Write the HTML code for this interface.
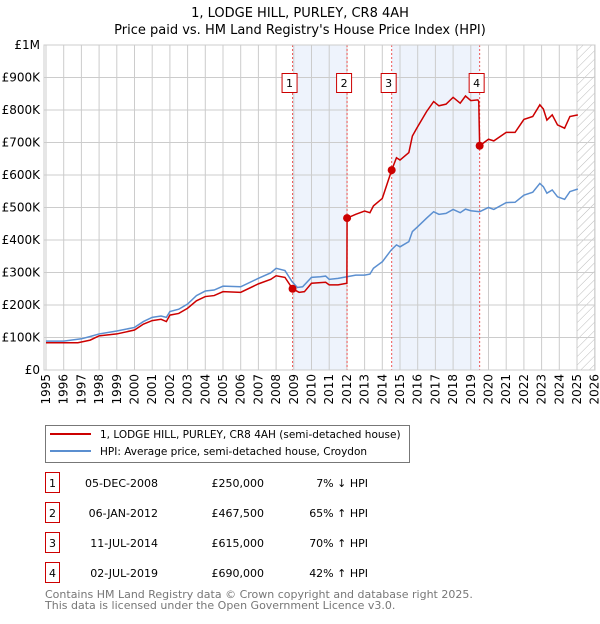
<!DOCTYPE html>
<html><head><meta charset="utf-8"><style>
body{margin:0;background:#fff;font-family:"DejaVu Sans","Liberation Sans",sans-serif;}
svg text{font-family:"DejaVu Sans","Liberation Sans",sans-serif;}
</style></head><body>
<svg id="c" width="600" height="620" xmlns="http://www.w3.org/2000/svg">
<defs><pattern id="hatch" width="6" height="6" patternUnits="userSpaceOnUse" patternTransform="rotate(45)"><line x1="0" y1="0" x2="0" y2="6" stroke="#bbb" stroke-width="1"/></pattern></defs>
<text x="300" y="17" text-anchor="middle" font-size="13">1, LODGE HILL, PURLEY, CR8 4AH</text>
<text x="300" y="34" text-anchor="middle" font-size="13">Price paid vs. HM Land Registry's House Price Index (HPI)</text>
<g id="plot"></g>
<g>
<rect x="45.5" y="425.5" width="364" height="37" fill="#fff" stroke="#777"/>
<line x1="50" y1="434" x2="91" y2="434" stroke="#cc0000" stroke-width="2"/>
<text x="100" y="438" font-size="10.5">1, LODGE HILL, PURLEY, CR8 4AH (semi-detached house)</text>
<line x1="50" y1="451" x2="91" y2="451" stroke="#5b8fd0" stroke-width="2"/>
<text x="100" y="455" font-size="10.5">HPI: Average price, semi-detached house, Croydon</text>
</g>
<g id="table" font-size="11"></g>
<text x="45" y="598" font-size="11" fill="#777">Contains HM Land Registry data © Crown copyright and database right 2025.</text>
<text x="45" y="609" font-size="11" fill="#777">This data is licensed under the Open Government Licence v3.0.</text>
</svg>
<script>
const hpiYears=[1995,1996,1997,1997.5,1998,1999,2000,2000.5,2001,2001.5,2001.8,2002,2002.5,2003,2003.5,2004,2004.5,2005,2006,2007,2007.7,2008,2008.5,2008.9,2009.2,2009.5,2010,2010.5,2010.8,2011,2011.5,2012,2012.5,2013,2013.3,2013.5,2014,2014.5,2014.8,2015,2015.5,2015.7,2016,2016.5,2016.9,2017.2,2017.6,2018,2018.4,2018.7,2019,2019.5,2020,2020.3,2021,2021.5,2022,2022.5,2022.9,2023.1,2023.3,2023.6,2023.9,2024.3,2024.6,2025.05];
const hpiValues=[89,89,96,103,111,120,131,149,162,166,162,180,187,203,229,243,246,258,256,282,299,313,306,272,254,256,285,287,289,279,282,287,292,292,295,313,333,369,385,379,395,426,441,467,487,479,482,494,484,495,490,487,500,494,515,516,538,547,574,564,544,554,533,525,549,557];
const priceYears=[1995,1996.8,1997.5,1998,1999,2000,2000.5,2001,2001.5,2001.8,2002,2002.5,2003,2003.5,2004,2004.5,2005,2006,2007,2007.7,2008,2008.5,2008.93,2009.3,2009.6,2010,2010.8,2011,2011.5,2012.0,2012.01,2012.5,2013,2013.3,2013.5,2014,2014.53,2014.8,2015,2015.5,2015.7,2016,2016.5,2016.9,2017.2,2017.6,2018,2018.4,2018.7,2019,2019.4,2019.45,2019.5,2020,2020.3,2021,2021.5,2022,2022.5,2022.9,2023.1,2023.3,2023.6,2023.9,2024.3,2024.6,2025.05];
const priceValues=[84,84,92,105,111,123,141,152,156,149,169,174,190,213,226,229,241,239,265,279,290,285,250,239,241,267,270,262,262,267,467.5,479,489,484,505,528,615,653,646,669,720,749,795,826,813,818,839,821,843,829,831,826,690,710,705,731,731,771,780,816,803,769,785,754,744,780,785];
const saleLabels=["1","2","3","4"];
const saleYears=[2008.93,2012.01,2014.53,2019.5];
const saleValues=[250,467.5,615,690];
const saleDates=["05-DEC-2008","06-JAN-2012","11-JUL-2014","02-JUL-2019"];
const salePrices=["£250,000","£467,500","£615,000","£690,000"];
const saleHpi=["7% ↓ HPI","65% ↑ HPI","70% ↑ HPI","42% ↑ HPI"];
const yTicks=[0,100,200,300,400,500,600,700,800,900,1000];
const yTickLabels=["£0","£100K","£200K","£300K","£400K","£500K","£600K","£700K","£800K","£900K","£1M"];
const xTicks=[1995,1996,1997,1998,1999,2000,2001,2002,2003,2004,2005,2006,2007,2008,2009,2010,2011,2012,2013,2014,2015,2016,2017,2018,2019,2020,2021,2022,2023,2024,2025,2026];

const X=y=>46+(y-1995)*17.7, Y=v=>370-v*0.325;
const L=44,R=595,T=45,B=370;
const NS="http://www.w3.org/2000/svg";
const plot=document.getElementById('plot');
function mk(tag,attrs,parent){const e=document.createElementNS(NS,tag);for(const k in attrs)e.setAttribute(k,attrs[k]);(parent||plot).appendChild(e);return e;}
let e;
e=mk('rect',{x:L,y:T,width:R-L,height:B-T,fill:'#fff'});


for(let i=0;i<2;i++){
 e=mk('rect',{x:X(saleYears[i*2]),y:T,width:X(saleYears[i*2+1])-X(saleYears[i*2]),height:B-T,fill:'#eef3fc'});
 
 
}
e=mk('rect',{x:X(2025),y:T,width:R-X(2025),height:B-T,fill:'url(#hatch)'});


xTicks.forEach(t=>{
 e=mk('line',{x1:X(t),x2:X(t),y1:T,y2:B,stroke:'#ccc','stroke-width':1});
 
 
 e=mk('text',{x:0,y:0,transform:`translate(${X(t)+4},${B+4}) rotate(-90)`,'text-anchor':'end','font-size':12});
 e.textContent=String(t);
 
 
});
yTicks.forEach((t,i)=>{
 e=mk('line',{x1:L,x2:R,y1:Y(t),y2:Y(t),stroke:'#ccc','stroke-width':1});
 
 
 e=mk('text',{x:L-4,y:Y(t)+4,'text-anchor':'end','font-size':12});
 e.textContent=yTickLabels[i];
 
 
});
saleYears.forEach((s,i)=>{
 e=mk('line',{x1:X(s),x2:X(s),y1:T,y2:B,stroke:'#e55','stroke-width':1,'stroke-dasharray':'2,2'});
 
 
 e=mk('rect',{x:X(s)-10.5,y:73.5,width:15,height:19,fill:'#fff',stroke:'#cc0000'});
 
 
 e=mk('text',{x:X(s)-3,y:87,'text-anchor':'middle','font-size':11});
 e.textContent=saleLabels[i];
 
 
});
e=mk('polyline',{points:hpiYears.map((y,i)=>X(y)+','+Y(hpiValues[i])).join(' '),fill:'none',stroke:'#5b8fd0','stroke-width':1.5});


e=mk('polyline',{points:priceYears.map((y,i)=>X(y)+','+Y(priceValues[i])).join(' '),fill:'none',stroke:'#cc0000','stroke-width':1.5});


saleYears.forEach((s,i)=>{
 e=mk('circle',{cx:X(s),cy:Y(saleValues[i]),r:4,fill:'#cc0000'});
 
 
});
e=mk('rect',{x:L,y:T,width:R-L,height:B-T,fill:'none',stroke:'#ccc'});


const tb=document.getElementById('table');
saleLabels.forEach((l,i)=>{
 const y=484+i*30;
 e=mk('rect',{x:45.5,y:y-11.5,width:14,height:20,fill:'#fff',stroke:'#cc0000'},tb);
 
 
 e=mk('text',{x:52.5,y:y+3,'text-anchor':'middle'},tb);e.textContent=l;
 
 
 e=mk('text',{x:158,y:y+3,'text-anchor':'end'},tb);e.textContent=saleDates[i];
 
 
 e=mk('text',{x:264,y:y+3,'text-anchor':'end'},tb);e.textContent=salePrices[i];
 
 
 e=mk('text',{x:368,y:y+3,'text-anchor':'end'},tb);e.textContent=saleHpi[i];
 
 
});
</script>
</body></html>
